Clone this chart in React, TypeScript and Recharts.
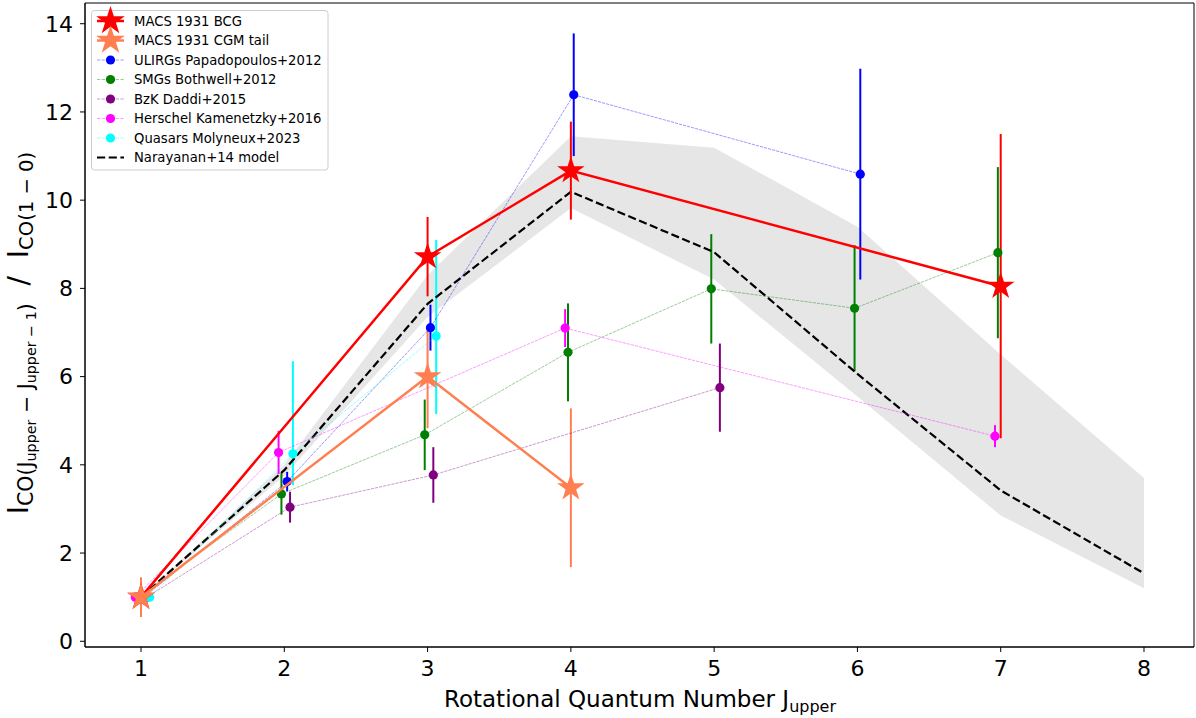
import React from 'react';
import { ComposedChart, XAxis, YAxis, Area, Line, Scatter, ErrorBar, ReferenceArea } from 'recharts';

const FONT = '"DejaVu Sans", sans-serif';

// axis ticks
const X_TICKS = [1, 2, 3, 4, 5, 6, 7, 8];
const Y_TICKS = [0, 2, 4, 6, 8, 10, 12, 14];
const X_DOMAIN: [number, number] = [0.609, 8.349];
const Y_DOMAIN: [number, number] = [-0.13, 14.47];

// Narayanan+14 model
const MODEL_J = [1, 2, 3, 4, 5, 6, 7, 8];
const MODEL_Y = [1.0, 3.88, 7.65, 10.19, 8.82, 6.06, 3.42, 1.54];
const MODEL_LOW = [1.0, 3.75, 7.35, 9.82, 8.2, 5.55, 2.85, 1.2];
const MODEL_HIGH = [1.0, 4.0, 8.3, 11.45, 11.19, 9.4, 6.5, 3.7];

// MACS 1931 BCG
const BCG_J = [1, 3, 4, 7];
const BCG_Y = [1.0, 8.72, 10.67, 8.05];
const BCG_ERR = [0.3, 0.9, 1.11, 3.45];

// MACS 1931 CGM tail
const CGM_J = [1, 3, 4];
const CGM_Y = [1.0, 6.0, 3.48];
const CGM_ERR = [0.45, 1.17, 1.8];

// ULIRGs Papadopoulos+2012
const ULIRG_J = [1, 2, 3, 4, 6];
const ULIRG_Y = [1.0, 3.62, 7.11, 12.39, 10.59];
const ULIRG_ERR = [0, 0.22, 0.52, 1.39, 2.39];

// SMGs Bothwell+2012
const SMG_J = [1, 2, 3, 4, 5, 6, 7];
const SMG_Y = [1.0, 3.34, 4.68, 6.55, 7.99, 7.55, 8.81];
const SMG_ERR = [0, 0.47, 0.8, 1.11, 1.24, 1.43, 1.94];

// BzK Daddi+2015
const BZK_J = [1, 2, 3, 5];
const BZK_Y = [1.0, 3.04, 3.77, 5.75];
const BZK_ERR = [0, 0.35, 0.63, 1.0];

// Herschel Kamenetzky+2016
const HER_J = [1, 2, 4, 7];
const HER_Y = [1.0, 4.28, 7.1, 4.65];
const HER_ERR = [0, 0.49, 0.43, 0.25];

// Quasars Molyneux+2023 (asymmetric errors: [low, high])
const QSO_J = [1, 2, 3];
const QSO_Y = [1.0, 4.25, 6.92];
const QSO_ERR_LOW = [0, 0.71, 1.77];
const QSO_ERR_HIGH = [0, 2.1, 2.18];

const modelData = MODEL_J.map((j, i) => ({ x: j, model: MODEL_Y[i], band: [MODEL_LOW[i], MODEL_HIGH[i]] }));

const mk = (js: number[], ys: number[], errs: any[], off: number) =>
  js.map((j, i) => ({ x: j + off, y: ys[i], err: errs[i] }));

const bcgData = mk(BCG_J, BCG_Y, BCG_ERR, 0);
const cgmData = mk(CGM_J, CGM_Y, CGM_ERR, 0);
const ulirgData = mk(ULIRG_J, ULIRG_Y, ULIRG_ERR, 0.02);
const smgData = mk(SMG_J, SMG_Y, SMG_ERR, -0.02);
const bzkData = mk(BZK_J, BZK_Y, BZK_ERR, 0.04);
const herData = mk(HER_J, HER_Y, HER_ERR, -0.04);
const qsoData = mk(QSO_J, QSO_Y, QSO_J.map((_, i) => [QSO_ERR_LOW[i], QSO_ERR_HIGH[i]]), 0.06);

const C = {
  bcg: '#ff0000',
  cgm: '#ff7f50',
  ulirg: '#0000ff',
  smg: '#008000',
  bzk: '#800080',
  her: '#ff00ff',
  qso: '#00ffff',
};

function starPath(cx: number, cy: number, R: number) {
  const r = R * 0.381966;
  let d = '';
  for (let i = 0; i < 10; i++) {
    const ang = -Math.PI / 2 + (i * Math.PI) / 5;
    const rad = i % 2 === 0 ? R : r;
    const x = cx + rad * Math.cos(ang);
    const y = cy + rad * Math.sin(ang);
    d += (i === 0 ? 'M' : 'L') + x.toFixed(2) + ',' + y.toFixed(2);
  }
  return d + 'Z';
}

const starShape = (color: string, R: number) => (props: any) => {
  const { cx, cy } = props;
  if (cx == null || cy == null) return <g />;
  return <path d={starPath(cx, cy, R)} fill={color} stroke="none" />;
};

const dotShape = (color: string) => (props: any) => {
  const { cx, cy } = props;
  if (cx == null || cy == null) return <g />;
  return <circle cx={cx} cy={cy} r={4.6} fill={color} stroke="none" />;
};

const thinLine = (color: string) => ({
  stroke: color,
  strokeWidth: 0.8,
  strokeOpacity: 0.5,
  strokeDasharray: '3.2 1',
  fill: 'none',
});

const LEGEND_ROWS = [
  { label: 'MACS 1931 BCG', kind: 'star', color: C.bcg },
  { label: 'MACS 1931 CGM tail', kind: 'star', color: C.cgm },
  { label: 'ULIRGs Papadopoulos+2012', kind: 'dot', color: C.ulirg },
  { label: 'SMGs Bothwell+2012', kind: 'dot', color: C.smg },
  { label: 'BzK Daddi+2015', kind: 'dot', color: C.bzk },
  { label: 'Herschel Kamenetzky+2016', kind: 'dot', color: C.her },
  { label: 'Quasars Molyneux+2023', kind: 'dot', color: C.qso },
  { label: 'Narayanan+14 model', kind: 'dash', color: '#000000' },
];

function LegendOverlay() {
  return (
    <svg width={1196} height={718} style={{ position: 'absolute', left: 0, top: 0, pointerEvents: 'none' }}>
      <rect x={91.5} y={10.5} width={236.5} height={159.5} rx={3} ry={3} fill="#ffffff" fillOpacity={0.8} stroke="#cccccc" strokeWidth={1} />
      {LEGEND_ROWS.map((row, i) => {
        const cy = 21 + i * 19.5;
        let handle: React.ReactNode = null;
        if (row.kind === 'star') {
          handle = (
            <g>
              <line x1={97} x2={124} y1={cy} y2={cy} stroke={row.color} strokeWidth={2.5} />
              <path d={starPath(110.5, cy, 15)} fill={row.color} />
            </g>
          );
        } else if (row.kind === 'dot') {
          handle = (
            <g>
              <line x1={97} x2={124} y1={cy} y2={cy} stroke={row.color} strokeWidth={0.8} strokeOpacity={0.5} strokeDasharray="3.2 1.5" />
              <circle cx={110.5} cy={cy} r={4.6} fill={row.color} />
            </g>
          );
        } else {
          handle = <line x1={97} x2={124} y1={cy} y2={cy} stroke="#000" strokeWidth={2.2} strokeDasharray="8.2 3.5" />;
        }
        return (
          <g key={row.label}>
            {handle}
            <text x={134} y={cy + 4.8} fontSize={13.2} fontFamily={FONT} fill="#000">
              {row.label}
            </text>
          </g>
        );
      })}
    </svg>
  );
}

function AxisLabels() {
  return (
    <svg width={1196} height={718} style={{ position: 'absolute', left: 0, top: 0, pointerEvents: 'none' }}>
      <text
        x={0}
        y={0}
        transform="translate(28,333) rotate(-90)"
        textAnchor="middle"
        fontFamily={FONT}
        fill="#000"
        style={{ whiteSpace: 'pre' }}
      >
        <tspan fontSize={28}>I</tspan>
        <tspan fontSize={20.5} dy={4.5}>CO(J</tspan>
        <tspan fontSize={14.3} dy={3}>upper</tspan>
        <tspan fontSize={20.5} dy={-3}>{' − J'}</tspan>
        <tspan fontSize={14.3} dy={3}>{'upper − 1'}</tspan>
        <tspan fontSize={20.5} dy={-3}>{')'}</tspan>
        <tspan fontSize={28} dy={-4.5}>{'  /  I'}</tspan>
        <tspan fontSize={19.6} dy={4.5}>{'CO(1 − 0)'}</tspan>
      </text>
      <text x={640} y={707} textAnchor="middle" fontFamily={FONT} fill="#000" style={{ whiteSpace: 'pre' }}>
        <tspan fontSize={23}>Rotational Quantum Number J</tspan>
        <tspan fontSize={16} dy={5}>upper</tspan>
      </text>
    </svg>
  );
}

export default function App() {
  const tickStyle = { fill: '#000', fontSize: 22, fontFamily: FONT };
  return (
    <div style={{ position: 'absolute', left: 0, top: 0, width: 1196, height: 718, background: '#fff', fontFamily: FONT }}>
      <ComposedChart
        width={1196}
        height={718}
        data={modelData}
        margin={{ top: 3, right: 2, bottom: 0, left: 0 }}
      >
        <XAxis
          dataKey="x"
          type="number"
          domain={X_DOMAIN}
          ticks={X_TICKS}
          allowDataOverflow
          height={71}
          tick={tickStyle}
          tickSize={5}
          tickMargin={8}
          axisLine={{ stroke: '#000', strokeWidth: 1 }}
          tickLine={{ stroke: '#000', strokeWidth: 1 }}
          interval={0}
        />
        <YAxis
          type="number"
          domain={Y_DOMAIN}
          ticks={Y_TICKS}
          allowDataOverflow
          width={85}
          tick={tickStyle}
          tickSize={5}
          tickMargin={7}
          axisLine={{ stroke: '#000', strokeWidth: 1 }}
          tickLine={{ stroke: '#000', strokeWidth: 1 }}
          interval={0}
        />
        <Area
          dataKey="band"
          type="linear"
          stroke="none"
          fill="#808080"
          fillOpacity={0.2}
          isAnimationActive={false}
          activeDot={false}
        />
        <Scatter data={ulirgData} dataKey="y" fill={C.ulirg} line={thinLine(C.ulirg)} lineType="joint" shape={dotShape(C.ulirg)} isAnimationActive={false}>
          <ErrorBar dataKey="err" direction="y" width={0} stroke={C.ulirg} strokeWidth={2} />
        </Scatter>
        <Scatter data={smgData} dataKey="y" fill={C.smg} line={thinLine(C.smg)} lineType="joint" shape={dotShape(C.smg)} isAnimationActive={false}>
          <ErrorBar dataKey="err" direction="y" width={0} stroke={C.smg} strokeWidth={2} />
        </Scatter>
        <Scatter data={bzkData} dataKey="y" fill={C.bzk} line={thinLine(C.bzk)} lineType="joint" shape={dotShape(C.bzk)} isAnimationActive={false}>
          <ErrorBar dataKey="err" direction="y" width={0} stroke={C.bzk} strokeWidth={2} />
        </Scatter>
        <Scatter data={herData} dataKey="y" fill={C.her} line={thinLine(C.her)} lineType="joint" shape={dotShape(C.her)} isAnimationActive={false}>
          <ErrorBar dataKey="err" direction="y" width={0} stroke={C.her} strokeWidth={2} />
        </Scatter>
        <Scatter data={qsoData} dataKey="y" fill={C.qso} line={thinLine(C.qso)} lineType="joint" shape={dotShape(C.qso)} isAnimationActive={false}>
          <ErrorBar dataKey="err" direction="y" width={0} stroke={C.qso} strokeWidth={2} />
        </Scatter>
        <Line
          dataKey="model"
          type="linear"
          stroke="#000"
          strokeWidth={2.2}
          strokeDasharray="8.2 3.5"
          dot={false}
          activeDot={false}
          isAnimationActive={false}
        />
        <Scatter data={bcgData} dataKey="y" fill={C.bcg} line={{ stroke: C.bcg, strokeWidth: 2.5, fill: 'none' }} lineType="joint" shape={starShape(C.bcg, 14.5)} isAnimationActive={false}>
          <ErrorBar dataKey="err" direction="y" width={0} stroke={C.bcg} strokeWidth={2} />
        </Scatter>
        <Scatter data={cgmData} dataKey="y" fill={C.cgm} line={{ stroke: C.cgm, strokeWidth: 2.5, fill: 'none' }} lineType="joint" shape={starShape(C.cgm, 14.5)} isAnimationActive={false}>
          <ErrorBar dataKey="err" direction="y" width={0} stroke={C.cgm} strokeWidth={2} />
        </Scatter>
        <ReferenceArea
          x1={X_DOMAIN[0]}
          x2={X_DOMAIN[1]}
          y1={Y_DOMAIN[0]}
          y2={Y_DOMAIN[1]}
          fill="none"
          fillOpacity={0}
          stroke="#000"
          strokeWidth={1}
          ifOverflow="visible"
        />
      </ComposedChart>
      <AxisLabels />
      <LegendOverlay />
    </div>
  );
}
